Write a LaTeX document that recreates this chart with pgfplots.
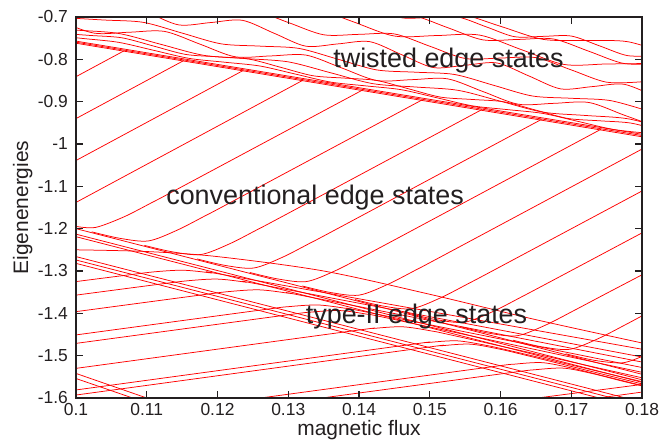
\documentclass[border=0pt]{standalone}
\usepackage{fontspec}
\setmainfont{Liberation Sans}
\usepackage{pgfplots}
\pgfplotsset{compat=1.18}
\definecolor{txt}{HTML}{231F20}
\pgfplotsset{
  ln/.style={color=red, line width=0.75bp, mark=none},
  sl/.style={color=red, line width=0.75bp, mark=none, smooth},
}
\begin{document}
\begin{tikzpicture}
\begin{axis}[
  name=ax, scale only axis, width=566bp, height=381bp,
  xmin=0.1, xmax=0.18, ymin=-1.6, ymax=-0.7,
  axis on top,
  xtick={0.1,0.11,0.12,0.13,0.14,0.15,0.16,0.17,0.18},
  xticklabels={0.1,0.11,0.12,0.13,0.14,0.15,0.16,0.17,0.18},
  ytick={-1.6,-1.5,-1.4,-1.3,-1.2,-1.1,-1,-0.9,-0.8,-0.7},
  yticklabels={-1.6,-1.5,-1.4,-1.3,-1.2,-1.1,-1,-0.9,-0.8,-0.7},
  tick align=inside, major tick length=7bp,
  every tick/.style={line width=1.1bp, color=txt},
  axis line style={line width=1.5bp, color=txt},
  tick label style={font=\fontsize{17.5}{20}\selectfont, text=txt, inner sep=0pt},
  xticklabel style={yshift=-5bp},
  yticklabel style={xshift=-8bp},
  /pgf/number format/assume math mode=true,
]
% ---- twisted bundle
\addplot[ln] coordinates {(0.1,-0.757) (0.18,-0.977)};
\addplot[ln] coordinates {(0.1,-0.7595) (0.18,-0.980)};
\addplot[ln] coordinates {(0.1,-0.762) (0.18,-0.983)};
% ---- wavy twisted lines
\addplot[sl] coordinates {(0.136,-0.6548) (0.142,-0.6856) (0.148,-0.6884) (0.154,-0.6912) (0.160,-0.7220) (0.166,-0.7528) (0.172,-0.7556) (0.178,-0.7584) (0.184,-0.7892)};
\addplot[sl] coordinates {(0.138,-0.6554) (0.142,-0.6786) (0.146,-0.7018) (0.150,-0.7010) (0.154,-0.7002) (0.158,-0.7234) (0.162,-0.7466) (0.166,-0.7458) (0.170,-0.7450) (0.174,-0.7682) (0.178,-0.7914) (0.182,-0.7906)};
\addplot[sl] coordinates {(0.1325,-0.669) (0.1375,-0.698) (0.1425,-0.697) (0.1475,-0.696) (0.1525,-0.725) (0.1575,-0.754) (0.1625,-0.753) (0.1675,-0.752) (0.1725,-0.781) (0.1775,-0.810) (0.1825,-0.809)};
\addplot[sl] coordinates {(0.127,-0.6766) (0.133,-0.6754) (0.139,-0.7102) (0.145,-0.7450) (0.151,-0.7438) (0.157,-0.7426) (0.163,-0.7774) (0.169,-0.8122) (0.175,-0.8110) (0.181,-0.8098)};
\addplot[sl] coordinates {(0.110,-0.657) (0.115,-0.686) (0.120,-0.685) (0.125,-0.684) (0.130,-0.713) (0.135,-0.742) (0.140,-0.741) (0.145,-0.740) (0.150,-0.769) (0.155,-0.798) (0.160,-0.797) (0.165,-0.796) (0.170,-0.825) (0.175,-0.854) (0.180,-0.853)};
\addplot[sl] coordinates {(0.0965,-0.6682) (0.101,-0.6628) (0.1055,-0.6574) (0.110,-0.688) (0.1145,-0.7186) (0.119,-0.7132) (0.1235,-0.7078) (0.128,-0.7384) (0.1325,-0.769) (0.137,-0.7636) (0.1415,-0.7582) (0.146,-0.7888) (0.1505,-0.8194) (0.155,-0.814) (0.1595,-0.8086) (0.164,-0.8392) (0.1685,-0.8698) (0.173,-0.8644) (0.1775,-0.859) (0.182,-0.8896)};
\addplot[sl] coordinates {(0.0985,-0.7018) (0.104,-0.7072) (0.1095,-0.7126) (0.115,-0.738) (0.1205,-0.7634) (0.126,-0.7688) (0.1315,-0.7742) (0.137,-0.7996) (0.1425,-0.825) (0.148,-0.8304) (0.1535,-0.8358) (0.159,-0.8612) (0.1645,-0.8866) (0.170,-0.892) (0.1755,-0.8974) (0.181,-0.9228)};
\addplot[sl] coordinates {(0.0975,-0.708) (0.1025,-0.738) (0.1075,-0.736) (0.1125,-0.734) (0.1175,-0.764) (0.1225,-0.794) (0.1275,-0.792) (0.1325,-0.790) (0.1375,-0.820) (0.1425,-0.850) (0.1475,-0.848) (0.1525,-0.846) (0.1575,-0.876) (0.1625,-0.906) (0.1675,-0.904) (0.1725,-0.902) (0.1775,-0.932) (0.1825,-0.962)};
\addplot[sl] coordinates {(0.094,-0.7232) (0.100,-0.731) (0.106,-0.7388) (0.112,-0.7646) (0.118,-0.7904) (0.124,-0.7982) (0.130,-0.806) (0.136,-0.8318) (0.142,-0.8576) (0.148,-0.8654) (0.154,-0.8732) (0.160,-0.899) (0.166,-0.9248) (0.172,-0.9326) (0.178,-0.9404) (0.184,-0.9662)};
\addplot[sl] coordinates {(0.0975,-0.738) (0.102,-0.7436) (0.1065,-0.7492) (0.111,-0.7688) (0.1155,-0.7884) (0.120,-0.794) (0.1245,-0.7996) (0.129,-0.8192) (0.1335,-0.8388) (0.138,-0.8444) (0.1425,-0.850) (0.147,-0.8696) (0.1515,-0.8892) (0.156,-0.8948) (0.1605,-0.9004) (0.165,-0.920) (0.1695,-0.9396) (0.174,-0.9452) (0.1785,-0.9508) (0.183,-0.9704)};
\addplot[sl] coordinates {(0.096,-0.7418) (0.101,-0.7508) (0.106,-0.7598) (0.111,-0.7788) (0.116,-0.7978) (0.121,-0.8068) (0.126,-0.8158) (0.131,-0.8348) (0.136,-0.8538) (0.141,-0.8628) (0.146,-0.8718) (0.151,-0.8908) (0.156,-0.9098) (0.161,-0.9188) (0.166,-0.9278) (0.171,-0.9468) (0.176,-0.9658) (0.181,-0.9748)};
% ---- conventional edge states (rising)
\addplot[ln] coordinates {(0.1,-0.841) (0.10681,-0.7797)};
\addplot[ln] coordinates {(0.1,-0.940) (0.11523,-0.8029)};
\addplot[ln] coordinates {(0.1,-1.039) (0.12366,-0.8261)};
\addplot[ln] coordinates {(0.1,-1.138) (0.13209,-0.8492)};
\addplot[sl] coordinates {(0.1,-1.1947) (0.10278,-1.1970) (0.10678,-1.1721) (0.11078,-1.1379) (0.11478,-1.1026) (0.14051,-0.8724)};
\addplot[sl] coordinates {(0.10223,-1.2075) (0.10623,-1.2229) (0.11023,-1.2290) (0.11423,-1.2041) (0.11823,-1.1699) (0.12223,-1.1346) (0.14894,-0.8956)};
\addplot[sl] coordinates {(0.10967,-1.2395) (0.11367,-1.2549) (0.11767,-1.2610) (0.12167,-1.2361) (0.12567,-1.2019) (0.12967,-1.1666) (0.15736,-0.9187)};
\addplot[sl] coordinates {(0.11711,-1.2715) (0.12111,-1.2869) (0.12511,-1.2930) (0.12911,-1.2681) (0.13311,-1.2339) (0.13711,-1.1986) (0.16579,-0.9419)};
\addplot[sl] coordinates {(0.12456,-1.3035) (0.12856,-1.3189) (0.13256,-1.3250) (0.13656,-1.3001) (0.14056,-1.2659) (0.14456,-1.2306) (0.17421,-0.9651)};
\addplot[sl] coordinates {(0.132,-1.3355) (0.136,-1.3509) (0.140,-1.3570) (0.144,-1.3321) (0.148,-1.2979) (0.152,-1.2626) (0.18,-1.012)};
\addplot[sl] coordinates {(0.13944,-1.3675) (0.14344,-1.3829) (0.14744,-1.3890) (0.15144,-1.3641) (0.15544,-1.3299) (0.15944,-1.2946) (0.18,-1.111)};
\addplot[sl] coordinates {(0.14689,-1.3995) (0.15089,-1.4149) (0.15489,-1.4210) (0.15889,-1.3961) (0.16289,-1.3619) (0.16689,-1.3266) (0.18,-1.210)};
\addplot[sl] coordinates {(0.15433,-1.4315) (0.15833,-1.4469) (0.16233,-1.4530) (0.16633,-1.4281) (0.17033,-1.3939) (0.17433,-1.3586) (0.18,-1.309)};
\addplot[sl] coordinates {(0.16177,-1.4635) (0.16577,-1.4789) (0.16977,-1.4850) (0.17377,-1.4601) (0.17777,-1.4259) (0.18,-1.406)};
\addplot[sl] coordinates {(0.16922,-1.4955) (0.17322,-1.5109) (0.17722,-1.5170) (0.18,-1.5017)};
% ---- type-II descending bundle
\addplot[ln] coordinates {(0.1,-1.200) (0.18,-1.544)};
\addplot[ln] coordinates {(0.1,-1.213) (0.18,-1.557)};
\addplot[ln] coordinates {(0.1,-1.219) (0.18,-1.563)};
\addplot[ln] coordinates {(0.1,-1.266) (0.18,-1.610)};
\addplot[ln] coordinates {(0.1,-1.274) (0.18,-1.618)};
\addplot[ln] coordinates {(0.1,-1.282) (0.18,-1.626)};
\addplot[ln] coordinates {(0.1,-1.542) (0.11,-1.60)};
\addplot[ln] coordinates {(0.1,-1.554) (0.108,-1.60)};
\addplot[sl] coordinates {(0.1,-1.25) (0.11,-1.254) (0.12,-1.266) (0.135,-1.30) (0.15,-1.355) (0.165,-1.415) (0.18,-1.47)};
% ---- shallow rising lines bending down
\addplot[sl] coordinates {(0.1,-1.325) (0.10712,-1.3099) (0.11112,-1.3019) (0.11512,-1.2982) (0.11912,-1.3047) (0.12312,-1.3155) (0.18,-1.4848)};
\addplot[sl] coordinates {(0.1,-1.357) (0.11197,-1.3308) (0.11597,-1.3228) (0.11997,-1.3191) (0.12397,-1.3264) (0.12797,-1.3380) (0.18,-1.5032)};
\addplot[sl] coordinates {(0.1,-1.396) (0.11788,-1.3562) (0.12188,-1.3482) (0.12588,-1.3445) (0.12988,-1.3522) (0.13388,-1.3642) (0.18,-1.5151)};
\addplot[sl] coordinates {(0.1,-1.451) (0.12621,-1.3920) (0.13021,-1.3840) (0.13421,-1.3803) (0.13821,-1.3884) (0.14221,-1.4008) (0.18,-1.5280)};
\addplot[sl] coordinates {(0.1,-1.471) (0.12924,-1.4051) (0.13324,-1.3971) (0.13724,-1.3934) (0.14124,-1.4023) (0.14524,-1.4155) (0.18,-1.5393)};
\addplot[sl] coordinates {(0.1,-1.530) (0.13818,-1.4435) (0.14218,-1.4355) (0.14618,-1.4318) (0.15018,-1.4415) (0.15418,-1.4555) (0.18,-1.5523)};
\addplot[sl] coordinates {(0.1,-1.581) (0.14591,-1.4767) (0.14991,-1.4687) (0.15391,-1.4650) (0.15791,-1.4755) (0.16191,-1.4903) (0.18,-1.5614)};
\addplot[sl] coordinates {(0.1,-1.593) (0.14773,-1.4845) (0.15173,-1.4765) (0.15573,-1.4728) (0.15973,-1.4841) (0.16373,-1.4997) (0.18,-1.5667)};
\addplot[sl] coordinates {(0.12609,-1.6) (0.15788,-1.5282) (0.16188,-1.5202) (0.16588,-1.5165) (0.16988,-1.5286) (0.17388,-1.5450) (0.18,-1.5706)};
\addplot[sl] coordinates {(0.13478,-1.6) (0.16091,-1.5412) (0.16491,-1.5332) (0.16891,-1.5295) (0.17291,-1.5420) (0.17691,-1.5588) (0.18,-1.5714)};
\addplot[ln] coordinates {(0.16522,-1.6) (0.18,-1.568)};
\addplot[ln] coordinates {(0.17391,-1.6) (0.18,-1.586)};
% ---- annotations
\node[anchor=base, inner sep=0pt, text=txt, font=\fontsize{27}{32}\selectfont] at (axis cs:0.15265,-0.820) {twisted edge states};
\node[anchor=base, inner sep=0pt, text=txt, font=\fontsize{27}{32}\selectfont] at (axis cs:0.1338,-1.1441) {conventional edge states};
\node[anchor=base, inner sep=0pt, text=txt, font=\fontsize{27}{32}\selectfont] at (axis cs:0.14813,-1.4236) {type-II edge states};
\end{axis}
\node[anchor=base, inner sep=0pt, text=txt, font=\fontsize{21}{24}\selectfont] at ([yshift=-38bp]ax.south) {magnetic flux};
\node[anchor=base, rotate=90, inner sep=0pt, text=txt, font=\fontsize{21}{24}\selectfont] at ([xshift=-48bp]ax.west) {Eigenenergies};
\pgfresetboundingbox
\path ([shift={(-76bp,-44bp)}]ax.south west) rectangle ([shift={(22bp,17bp)}]ax.north east);
\end{tikzpicture}
\end{document}
